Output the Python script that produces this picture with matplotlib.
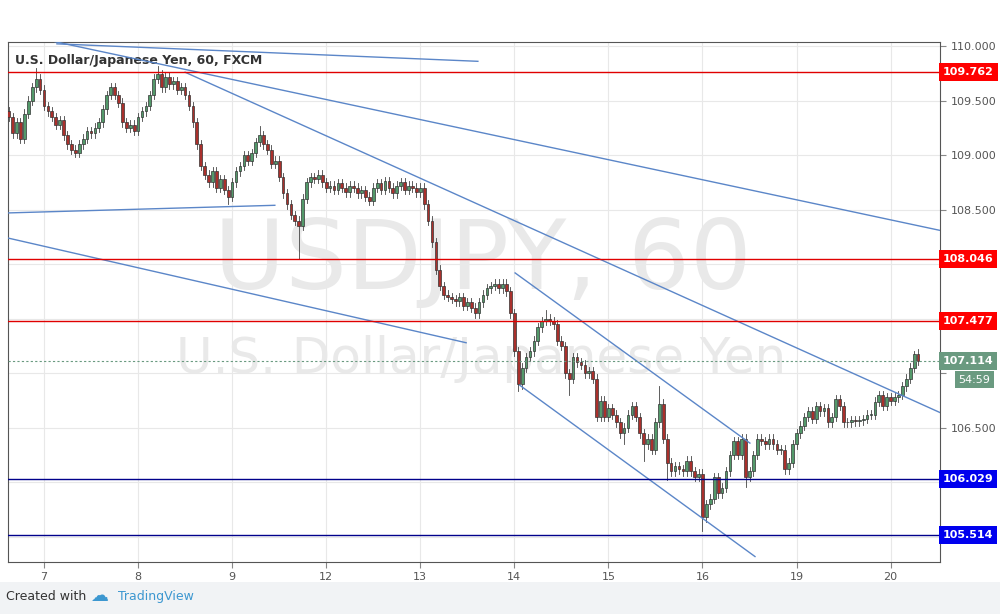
import matplotlib
matplotlib.use("Agg")
import matplotlib.pyplot as plt
from matplotlib.patches import Rectangle

closes = [109.35,109.20,109.30,109.15,109.38,109.50,109.62,109.70,109.60,
 109.45,109.40,109.35,109.28,109.32,109.18,109.10,109.05,109.02,109.10,109.15,109.22,109.20,109.25,109.30,109.42,109.55,109.62,109.55,109.48,109.30,109.25,109.28,109.22,
 109.35,109.40,109.45,109.55,109.70,109.74,109.62,109.72,109.65,109.68,109.60,109.62,109.55,109.45,109.30,109.10,108.90,108.82,108.75,108.85,108.70,108.78,108.68,108.62,
 108.75,108.85,108.90,109.00,108.95,109.02,109.12,109.18,109.10,109.05,108.92,108.95,108.80,108.65,108.55,108.45,108.40,108.35,108.60,108.75,108.80,108.78,108.82,108.75,
 108.70,108.72,108.68,108.74,108.70,108.66,108.72,108.70,108.65,108.68,108.62,108.58,108.70,108.74,108.68,108.76,108.70,108.65,108.72,108.75,108.68,108.72,108.70,108.66,108.70,
 108.55,108.40,108.20,107.95,107.80,107.72,107.70,107.68,107.66,107.70,107.62,107.65,107.60,107.55,107.65,107.72,107.78,107.80,107.82,107.78,107.82,107.75,107.55,
 107.20,106.90,107.05,107.15,107.20,107.30,107.42,107.48,107.50,107.48,107.45,107.30,107.25,107.00,106.95,107.15,107.10,107.08,107.00,107.02,106.95,
 106.60,106.75,106.60,106.68,106.62,106.55,106.45,106.50,106.62,106.70,106.60,106.45,106.35,106.40,106.30,106.55,106.72,106.40,106.18,
 106.10,106.15,106.12,106.10,106.20,106.10,106.05,106.08,105.68,105.80,105.85,106.05,105.90,105.95,106.10,106.25,106.38,106.25,106.40,106.05,106.10,106.25,106.40,106.38,
 106.35,106.40,106.35,106.30,106.30,106.12,106.18,106.35,106.45,106.52,106.60,106.65,106.58,106.70,106.65,106.68,106.55,106.60,106.76,106.70,106.55,106.55,106.57,106.56,
 106.57,106.58,106.62,106.62,106.74,106.80,106.70,106.78,106.75,106.78,106.80,106.88,106.95,107.05,107.18,107.114]
first_open = 109.40
base_wick = 0.04
extra_lows = {74: 108.05, 56: 108.55, 130: 106.84, 143: 106.80, 162: 106.20, 168: 106.02, 177: 105.55, 188: 105.96, 157: 106.35}
extra_highs = {7: 109.80, 38: 109.82, 64: 109.27, 137: 107.58, 166: 106.88, 231: 107.20}

day_pos = [9,33,57,81,105,129,153,177,201,225]
day_labels = ["7","8","9","12","13","14","15","16","19","20"]
red_levels = [109.762, 108.046, 107.477]
blue_levels = [106.029, 105.514]
last_price = 107.114
yticks = [110.0,109.5,109.0,108.5,108.0,107.5,107.0,106.5,106.0,105.5]
shown_ytick_labels = [110.0,109.5,109.0,108.5,106.5]
trend_lines = [((12.3,110.02),(119.7,109.86)),
               ((11.8,110.04),(237.6,108.31)),
               ((45.0,109.76),(237.6,106.64)),
               ((-0.2,108.47),(67.9,108.54)),
               ((-0.2,108.24),(116.7,107.28)),
               ((129.2,107.92),(189.1,106.36)),
               ((130.4,106.89),(190.4,105.32))]

fig = plt.figure(figsize=(10,6.14), dpi=100)
fig.patch.set_facecolor("white")
ax = fig.add_axes([0.008, 1-562/614, 0.932, 520/614])
ax.set_xlim(-0.18, 237.6)
ax.set_ylim(105.27, 110.037)
for yv in yticks:
    ax.axhline(yv, color="#e8e8e8", lw=0.8, zorder=0)
for xv in day_pos:
    ax.axvline(xv, color="#e8e8e8", lw=0.8, zorder=0)

ax.text(0.51, 0.575, "USDJPY, 60", transform=ax.transAxes, ha="center", va="center",
        fontsize=70, color="#e9e9e9", zorder=0.5)
ax.text(0.508, 0.39, "U.S. Dollar/Japanese Yen", transform=ax.transAxes, ha="center", va="center",
        fontsize=36, color="#e9e9e9", zorder=0.5)

opens = [first_open] + closes[:-1]
for i,(o,c) in enumerate(zip(opens, closes)):
    hi = extra_highs.get(i, max(o,c)+base_wick)
    lo = extra_lows.get(i, min(o,c)-base_wick)
    up = c >= o
    col = "#53996a" if up else "#a9302c"
    ax.plot([i,i],[lo,hi], color="#444444", lw=0.6, zorder=2)
    ax.add_patch(Rectangle((i-0.35, min(o,c)), 0.7, max(abs(c-o),0.006),
                           facecolor=col, edgecolor="#333333", lw=0.5, zorder=3))

for (x0,y0),(x1,y1) in trend_lines:
    ax.plot([x0,x1],[y0,y1], color="#5b86c8", lw=1.0, zorder=4)
for yv in red_levels:
    ax.axhline(yv, color="#e00000", lw=1.0, zorder=4)
for yv in blue_levels:
    ax.axhline(yv, color="#00008b", lw=1.0, zorder=4)
ax.axhline(last_price, color="#6a9a80", lw=0.8, ls=(0,(2,2)), zorder=4)

ax.yaxis.tick_right()
ax.set_yticks(yticks)
ax.set_yticklabels([f"{v:.3f}" if v in shown_ytick_labels else "" for v in yticks],
                   fontsize=8, color="#555555")
ax.set_xticks(day_pos)
ax.set_xticklabels(day_labels, fontsize=8, color="#555555")
ax.tick_params(length=4, color="#888888")
for s in ax.spines.values():
    s.set_color("#555555"); s.set_linewidth(0.8)

def tag(y, txt, col):
    ax.text(1.003, y, txt, transform=ax.get_yaxis_transform(), ha="left", va="center",
            fontsize=8, color="white", fontweight="bold",
            bbox=dict(boxstyle="square,pad=0.35", fc=col, ec="none"), zorder=10, clip_on=False)
for yv in red_levels:
    tag(yv, f"{yv:.3f}", "#ff0000")
for yv in blue_levels:
    tag(yv, f"{yv:.3f}", "#0000ee")
tag(last_price, f"{last_price:.3f}", "#6a9a80")
ax.text(1.020, 106.94, "54:59", transform=ax.get_yaxis_transform(), ha="left", va="center",
        fontsize=8, color="white", bbox=dict(boxstyle="square,pad=0.3", fc="#6a9a80", ec="none"),
        zorder=10, clip_on=False)

ax.text(0.008, 0.965, "U.S. Dollar/Japanese Yen, 60, FXCM", transform=ax.transAxes,
        fontsize=9, color="#333333", va="center", fontweight="bold")

fig.patches.append(Rectangle((0,0),1,32/614, transform=fig.transFigure, fc="#f1f3f5", ec="none", zorder=-1))
fig.text(0.006, 0.028, "Created with", fontsize=9, color="#333333", va="center")
fig.text(0.118, 0.028, "TradingView", fontsize=9, color="#3c97d0", va="center")
fig.text(0.09, 0.03, "☁", fontsize=13, color="#3c97d0", va="center")

fig.savefig("out.png", dpi=100)
